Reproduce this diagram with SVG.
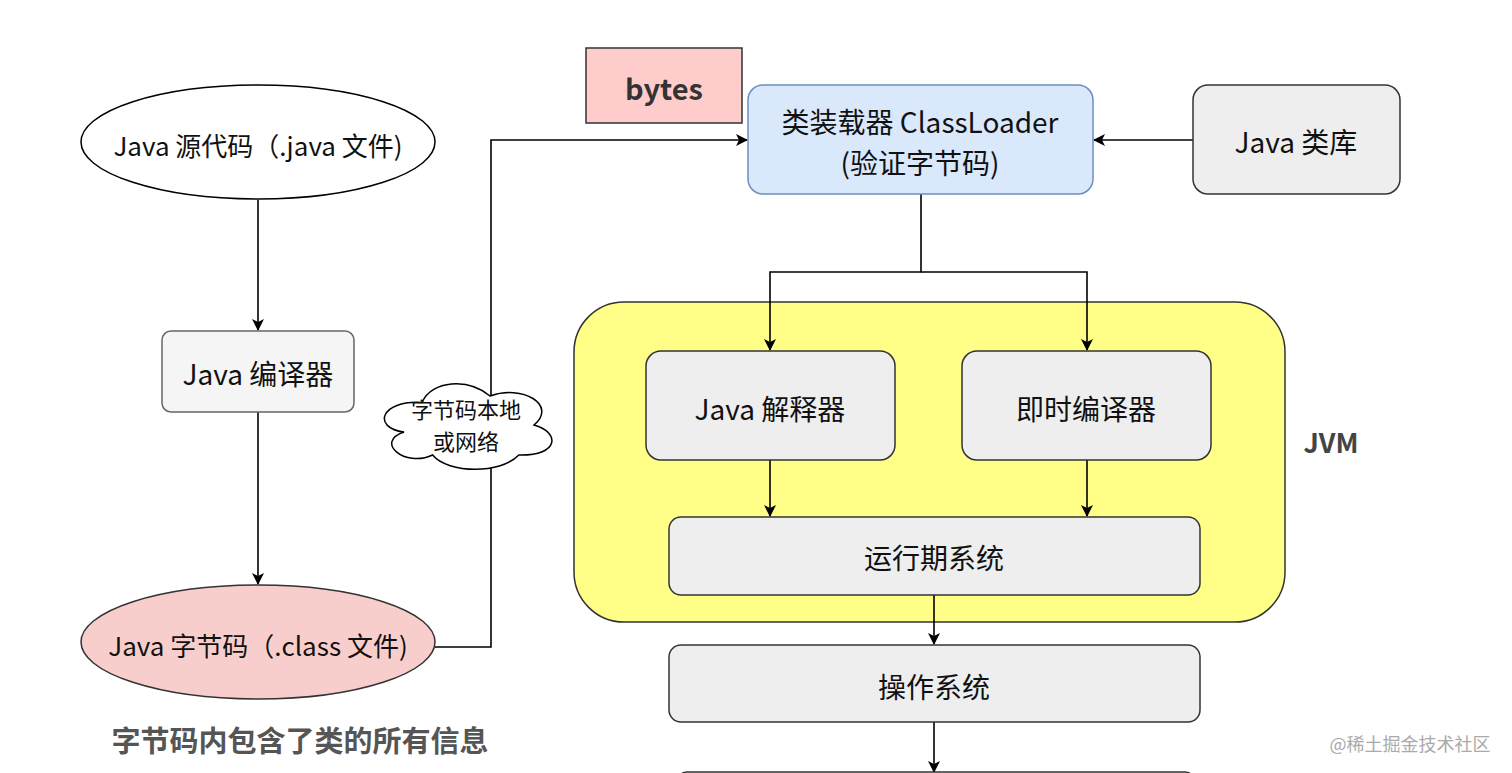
<svg xmlns="http://www.w3.org/2000/svg" width="1512" height="773" viewBox="0 0 1512 773">
<defs>
<marker id="arr" markerWidth="12" markerHeight="12" refX="11" refY="6" orient="auto" markerUnits="userSpaceOnUse">
<path d="M0,0 L12,6 L0,12 L3,6 Z" fill="#000"/>
</marker>
<style>
text{font-family:"Noto Sans CJK SC","Noto Sans",sans-serif;fill:#111;text-anchor:middle;dominant-baseline:central}
.box{fill:#eeeeee;stroke:#333;stroke-width:1.5}
.lbl{font-size:28px}
.ln{fill:none;stroke:#000;stroke-width:1.6}
</style>
</defs>
<rect width="1512" height="773" fill="#fff"/>
<g id="jvm">
<rect x="574" y="302" width="711" height="320" rx="50" fill="#ffff88" stroke="#333" stroke-width="1.5"/>
<text x="1331" y="441" style="font-size:27px;font-weight:bold;fill:#444">JVM</text>
</g>
<g id="connectors">
<path class="ln" d="M258,200 V330" marker-end="url(#arr)"/>
<path class="ln" d="M258,412 V584" marker-end="url(#arr)"/>
<path class="ln" d="M435,647 H491 V140 H747" marker-end="url(#arr)"/>
<path class="ln" d="M1193,140 H1094" marker-end="url(#arr)"/>
<path class="ln" d="M921,194 V272 H770 V350" marker-end="url(#arr)"/>
<path class="ln" d="M921,272 H1087 V350" marker-end="url(#arr)"/>
<path class="ln" d="M770,460 V516" marker-end="url(#arr)"/>
<path class="ln" d="M1087,460 V516" marker-end="url(#arr)"/>
<path class="ln" d="M934,595 V644" marker-end="url(#arr)"/>
<path class="ln" d="M934,722 V772" marker-end="url(#arr)"/>
</g>
<g id="src">
<ellipse cx="258" cy="142" rx="177" ry="57" fill="#fff" stroke="#000" stroke-width="1.5"/>
<text x="258" y="144" style="font-size:26px">Java 源代码（.java 文件)</text>
</g>
<g id="compiler">
<rect x="162" y="331" width="192" height="81" rx="9" fill="#f5f5f5" stroke="#666" stroke-width="1.5"/>
<text x="258" y="373" class="lbl">Java 编译器</text>
</g>
<g id="bytecode">
<ellipse cx="258" cy="642" rx="177" ry="57" fill="#f8cecc" stroke="#333" stroke-width="1.5"/>
<text x="258" y="644" style="font-size:26px">Java 字节码（.class 文件)</text>
</g>
<g id="note">
<text x="300" y="739" style="font-size:29px;font-weight:bold;fill:#555">字节码内包含了类的所有信息</text>
</g>
<g id="cloud">
<path d="M422,402.5 C380,400 372,428 404,432 C374,442 405,468 432.6,455 C448.4,474 501.2,474 518.8,455 C560,456 560,432 534,425 C558,405 522,384 490,396 C468,378 432,380 422,402.5 Z" fill="#fff" stroke="#000" stroke-width="1.5"/>
<text x="466" y="408" style="font-size:22px">字节码本地</text>
<text x="466" y="440" style="font-size:22px">或网络</text>
</g>
<g id="bytes">
<rect x="586" y="48" width="156" height="75" fill="#ffcccc" stroke="#333" stroke-width="1.5"/>
<text x="664" y="87" style="font-size:29px;font-weight:bold;fill:#333">bytes</text>
</g>
<g id="classloader">
<rect x="748" y="85" width="345" height="109" rx="15" fill="#dae8fc" stroke="#6c8ebf" stroke-width="1.5"/>
<text x="920" y="121" class="lbl">类装载器 ClassLoader</text>
<text x="920" y="162" class="lbl">(验证字节码)</text>
</g>
<g id="lib">
<rect x="1193" y="85" width="207" height="109" rx="15" class="box"/>
<text x="1296" y="141" class="lbl">Java 类库</text>
</g>
<g id="interp">
<rect x="646" y="351" width="249" height="109" rx="15" class="box"/>
<text x="770" y="408" class="lbl">Java 解释器</text>
</g>
<g id="jit">
<rect x="962" y="351" width="249" height="109" rx="15" class="box"/>
<text x="1086" y="408" class="lbl">即时编译器</text>
</g>
<g id="runtime">
<rect x="669" y="517" width="531" height="78" rx="12" class="box"/>
<text x="934" y="557" class="lbl">运行期系统</text>
</g>
<g id="os">
<rect x="669" y="645" width="531" height="77" rx="12" class="box"/>
<text x="934" y="686" class="lbl">操作系统</text>
</g>
<g id="hw">
<rect x="677" y="772" width="518" height="40" rx="10" class="box"/>
</g>
<g id="wm">
<text x="1410" y="743" style="font-size:18px;fill:#aaa">@稀土掘金技术社区</text>
</g>
</svg>
